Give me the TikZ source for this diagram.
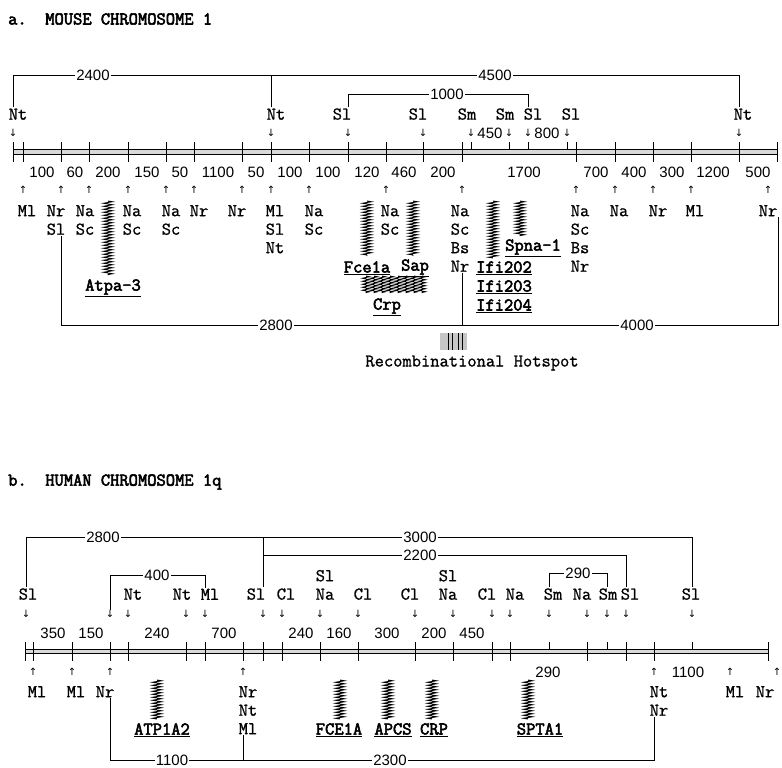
\documentclass[tikz,border=0pt]{standalone}
\usepackage{fontspec}
\setmainfont{Liberation Mono}
\newfontfamily\tagfont{Latin Modern Mono}[FakeBold=1]
\newfontfamily\darkfont{Latin Modern Mono}[FakeBold=3]
\newfontfamily\numfont{Liberation Sans}
\newfontfamily\arrowfont{DejaVu Sans}
\usetikzlibrary{decorations.pathmorphing}

\newcommand{\gname}[1]{\underline{#1}}

\tikzset{
  tag/.style={font=\tagfont\fontsize{18}{18.5}\selectfont, inner sep=1pt, align=center},
  num/.style={font=\numfont\fontsize{15}{17}\selectfont, inner sep=1pt},
  span/.style={num, fill=white, inner sep=1pt},
  dn/.style={font=\arrowfont\fontsize{10}{10}\selectfont, inner sep=0pt},
  title/.style={font=\darkfont\fontsize{18}{18}\selectfont, anchor=west, inner sep=0pt},
  gene/.style={font=\darkfont\fontsize{18}{17}\selectfont, inner sep=1pt},
  bracket/.style={line width=0.9pt},
  chrom/.style={fill=gray!30},
  tick/.style={line width=1pt},
  hatch/.style={decorate, decoration={zigzag, amplitude=4.5pt, segment length=3pt}, line width=0.9pt},
}

\begin{document}
\begin{tikzpicture}[x=1pt, y=-1pt]
\useasboundingbox (0,0) rectangle (782,768);

% a. mouse chromosome 1
\node[title] (titleA) at (8,19) {a.\ \ MOUSE CHROMOSOME 1};

\fill[chrom] (13,149) rectangle (777,154);
\draw[line width=0.8pt] (13,149) -- (777,149) (13,154) -- (777,154);
\foreach \x in {13,23,61,89,128,166,194,242,271,309,348,386,423,462,576,615,653,691,739,777}
  \draw[tick] (\x,142) -- (\x,162);
\foreach \x in {471,509,528,567}
  \draw[tick] (\x,142) -- (\x,150);

\foreach \x/\d in {42/100,75/60,108/200,147/150,180/50,218/1100,256/50,290/100,328/100,
    367/120,404/460,443/200,524/1700,596/700,634/400,672/300,713/1200,758/500}
  \node[num] (dA-\x) at (\x,172) {\d};

% markers above
\foreach \n/\x/\ax/\t in {mt1/18/13/Nt,mt2/276/271/Nt,mt3/342/348/Sl,mt4/418/423/Sl,
    mt5/467/471/Sm,mt6/505/509/Sm,mt7/533/528/Sl,mt8/571/567/Sl,mt9/743/739/Nt}{
  \node[tag, anchor=south] (\n) at (\x,121) {\t};
  \node[dn] (\n-a) at (\ax,133) {↓};
}
\node[num] (gap450) at (490,133) {450};
\node[num] (gap800) at (547,133) {800};

\coordinate (topA) at (0,75);
\coordinate (midA) at (0,94);
\draw[bracket] (mt1-a |- mt1.north) -- (mt1-a |- topA) -| (mt9-a |- mt9.north);
\draw[bracket] (mt2-a |- mt2.north) -- (mt2-a |- topA);
\draw[bracket] (mt3-a |- mt3.north) -- (mt3-a |- midA) -| (mt7-a |- mt7.north);
\node[span] at (93,75) {2400};
\node[span] at (495,75) {4500};
\node[span] at (447,94) {1000};

% markers below
\foreach \n/\x/\ax/\t in {mb1/27/23/Ml,mb2/56/61/Nr\\Sl,mb3/85/89/Na\\Sc,mb4/132/128/Na\\Sc,
    mb5/171/166/Na\\Sc,mb6/199/194/Nr,mb7/237/242/Nr,mb8/275/271/Ml\\Sl\\Nt,mb9/314/309/Na\\Sc,
    mb10/390/386/Na\\Sc,mb11/460/462/Na\\Sc\\Bs\\Nr,mb12/580/576/Na\\Sc\\Bs\\Nr,
    mb13/619/615/Na,mb14/658/653/Nr,mb15/695/691/Ml,mb16/768/768/Nr}{
  \node[dn] (\n-a) at (\ax,190) {↑};
  \node[tag, anchor=north] (\n) at (\x,204) {\t};
}

\coordinate (botA) at (0,325);
\draw[bracket] (mb2-a |- mb2.south) -- (mb2-a |- botA) -| (mb16.south east);
\draw[bracket] (mb11-a |- mb11.south) -- (mb11-a |- botA);
\node[span] at (276,325) {2800};
\node[span] at (637,325) {4000};

% genes
\draw[hatch] (108,201) -- (108,275);
\draw[hatch] (367,201) -- (367,256);
\draw[hatch] (413,201) -- (413,256);
\draw[hatch] (493,201) -- (493,258);
\draw[hatch] (520,201) -- (520,236);
\foreach \x in {366,374,...,428}
  \draw[hatch, decoration={amplitude=3.5pt}] (\x,276) -- (\x,293);
\node[gene] (atpa) at (113,288) {\gname{Atpa-3}};
\node[gene] (fce) at (367,268) {\gname{Fce1a}};
\node[gene] (sap) at (415,268) {\gname{Sap}};
\node[gene] (crp) at (387,307) {\gname{Crp}};
\node[gene] (ifiA) at (504,268) {\gname{Ifi202}};
\node[gene] (ifiB) at (504,287) {\gname{Ifi203}};
\node[gene] (ifiC) at (504,306) {\gname{Ifi204}};
\node[gene] (spna) at (533,248) {\gname{Spna-1}};

% hotspot
\fill[gray!45] (440,333) rectangle (467,350);
\foreach \x in {448,452,458,462}
  \draw[line width=0.7pt] (\x,333) -- (\x,350);
\node[tag] (hot) at (472,363) {Recombinational Hotspot};

% b. human chromosome 1q
\node[title] (titleB) at (8,482) {b.\ \ HUMAN CHROMOSOME 1q};

\fill[chrom] (25,649) rectangle (768,653);
\draw[line width=0.8pt] (25,649) -- (768,649) (25,653) -- (768,653);
\foreach \x in {25,33,72,110,128,186,205,243,263,282,320,358,415,453,492,510,587,626,654,768}
  \draw[tick] (\x,642) -- (\x,661);
\foreach \x in {549,607,692}
  \draw[tick] (\x,642) -- (\x,650);

\foreach \x/\d in {53/350,91/150,157/240,224/700,301/240,339/160,387/300,434/200,472/450}
  \node[num] (dB-\x) at (\x,633) {\d};
\node[num] (dB-548) at (548,672) {290};
\node[num] (dB-688) at (688,672) {1100};

% markers above
\node[dn] (ht0-a) at (110,614) {↓};
\foreach \n/\x/\ax/\t in {ht1/28/26/Sl,ht2/133/128/Nt,ht3/182/186/Nt,ht4/210/205/Ml,
    ht5/256/263/Sl,ht6/286/282/Cl,ht7/325/320/Sl\\Na,ht8/363/358/Cl,ht9/410/415/Cl,
    ht10/448/453/Sl\\Na,ht11/487/492/Cl,ht12/515/510/Na,ht13/553/549/Sm,ht14/582/587/Na,
    ht15/608/607/Sm,ht16/630/626/Sl,ht17/691/692/Sl}{
  \node[tag, anchor=south] (\n) at (\x,601) {\t};
  \node[dn] (\n-a) at (\ax,614) {↓};
}

\coordinate (topB) at (0,537);
\coordinate (midB) at (0,555);
\draw[bracket] (ht1-a |- ht1.north) -- (ht1-a |- topB) -| (ht17-a |- ht17.north);
\draw[bracket] (ht5-a |- ht5.north) -- (ht5-a |- topB);
\draw[bracket] (ht5-a |- midB) -| (ht16-a |- ht16.north);
\draw[bracket] (ht0-a.north) -- (ht0-a |- 0,575) -| (ht4-a |- ht4.north);
\draw[bracket] (ht13-a |- ht13.north) -- (ht13-a |- 0,573) -| (ht15-a |- ht15.north);
\node[span] at (103,537) {2800};
\node[span] at (420,537) {3000};
\node[span] at (420,555) {2200};
\node[span] at (157,575) {400};
\node[span] at (578,573) {290};

% markers below
\foreach \n/\x/\ax/\t in {hb1/37/33/Ml,hb2/76/72/Ml,hb3/105/110/Nr,hb4/248/243/Nr\\Nt\\Ml,
    hb5/659/654/Nt\\Nr,hb6/735/730/Ml,hb7/765/777/Nr}{
  \node[dn] (\n-a) at (\ax,672) {↑};
  \node[tag, anchor=north] (\n) at (\x,685) {\t};
}

\coordinate (botB) at (0,760);
\draw[bracket] (hb3-a |- hb3.south) -- (hb3-a |- botB) -| (hb5-a |- hb5.south);
\draw[bracket] (hb4-a |- hb4.south) -- (hb4-a |- botB);
\node[span] at (172,760) {1100};
\node[span] at (390,760) {2300};

% genes
\foreach \x in {157,340,388,432,528}
  \draw[hatch] (\x,680) -- (\x,719);
\node[gene] (atp) at (162,730) {\gname{ATP1A2}};
\node[gene] (fceB) at (339,730) {\gname{FCE1A}};
\node[gene] (apcs) at (393,730) {\gname{APCS}};
\node[gene] (crpB) at (434,730) {\gname{CRP}};
\node[gene] (spta) at (540,730) {\gname{SPTA1}};
\end{tikzpicture}
\end{document}
